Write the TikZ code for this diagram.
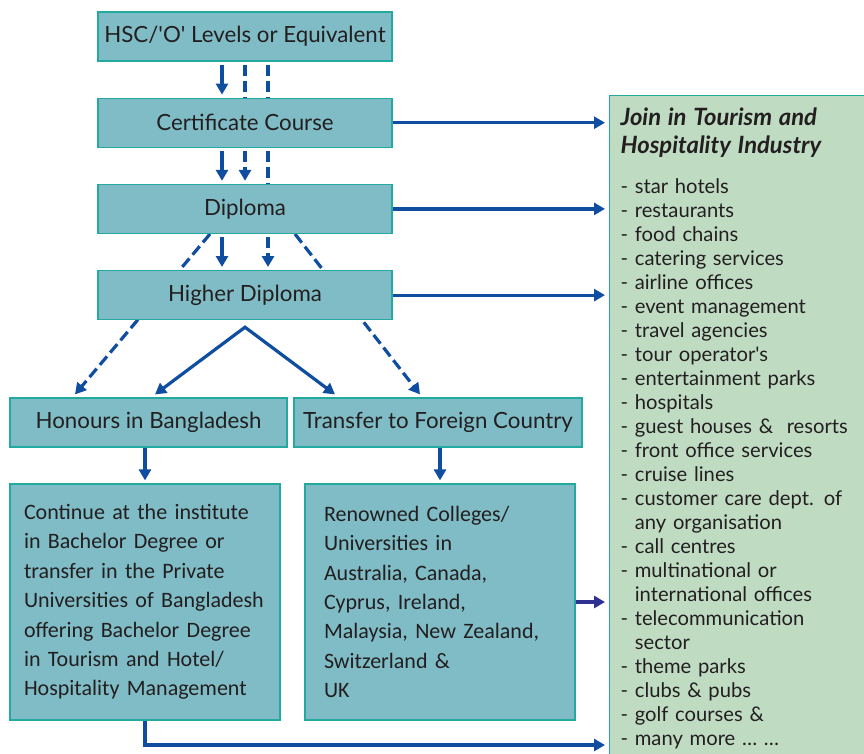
\documentclass[tikz,border=0pt]{standalone}
\usepackage{fontspec}
\setmainfont{Lato}[Ligatures=TeXOff]
\newfontfamily\narrowfont{Carlito}
\usetikzlibrary{arrows.meta,positioning,backgrounds}
\definecolor{boxfill}{HTML}{7FBCC6}
\definecolor{boxline}{HTML}{22AAA0}
\definecolor{joinfill}{HTML}{BFDCC2}
\definecolor{arrowblue}{HTML}{0E4D9F}
\definecolor{arrowpurple}{HTML}{2E3192}
\definecolor{inktext}{HTML}{231F20}

\tikzset{
  stage/.style={draw=boxline, fill=boxfill, line width=1.2pt, text=inktext,
    minimum width=294pt, minimum height=49pt, inner sep=0pt,
    font=\fontsize{22.3}{26}\selectfont},
  bigstage/.style={stage, minimum height=236pt, align=left,
    font=\narrowfont\fontsize{22}{29.4}\selectfont},
  joinbox/.style={draw=boxline, fill=joinfill, line width=1.2pt, text=inktext,
    anchor=north west, align=left, text width=250pt, inner xsep=11pt, inner ysep=12pt,
    font=\fontsize{20.2}{24}\selectfont},
  flow/.style={draw=arrowblue, line width=3.2pt, -{Triangle[length=11pt,width=12pt]}},
  flowdash/.style={flow, dash pattern=on 11pt off 5pt},
  linkdash/.style={draw=arrowblue, line width=3.2pt, dash pattern=on 11pt off 5pt},
}
\newcommand{\gap}{\hphantom{- }}

\begin{document}
\begin{tikzpicture}[x=1pt,y=-1pt]
\useasboundingbox (0,0) rectangle (864,753);

\node[stage] (hsc) at (245,36.5) {HSC/'O' Levels or Equivalent};
\node[stage, below=36pt of hsc] (cert) {Certificate Course};
\node[stage, below=36pt of cert] (dipl) {Diploma};
\node[stage, below=36pt of dipl] (hdip) {Higher Diploma};
\node[stage, minimum width=277pt] (hons) at (148.5,422.5) {Honours in Bangladesh};
\node[stage, minimum width=288pt] (trans) at (438,422.5) {Transfer to Foreign Country};
\node[bigstage, minimum width=270pt, text width=242pt, inner xsep=14pt] (cont) at (145,602)
  {Continue at the institute\\ in Bachelor Degree or\\ transfer in the Private\\
   Universities of Bangladesh\\ offering Bachelor Degree\\ in Tourism and Hotel/\\
   Hospitality Management};
\node[bigstage, minimum width=270pt, text width=232pt, inner xsep=19pt] (reno) at (440,602)
  {Renowned Colleges/\\ Universities in\\ Australia, Canada,\\ Cyprus, Ireland,\\
   Malaysia, New Zealand,\\ Switzerland \&\\ UK};
\node[joinbox] (join) at (609,95)
  {{\fontsize{23.8}{24}\selectfont\bfseries\itshape Join in Tourism and}\\[4pt]
   {\fontsize{23.8}{24}\selectfont\bfseries\itshape Hospitality Industry}\\[16pt]
   - star hotels\\ - restaurants\\ - food chains\\ - catering services\\
   - airline offices\\ - event management\\ - travel agencies\\ - tour operator's\\
   - entertainment parks\\ - hospitals\\ - guest houses \&\ \ resorts\\
   - front office services\\ - cruise lines\\ - customer care dept. of\\
   \gap any organisation\\ - call centres\\ - multinational or\\
   \gap international offices\\ - telecommunication\\ \gap sector\\
   - theme parks\\ - clubs \& pubs\\ - golf courses \&\\ - many more \dots\ \dots};

\coordinate (joinin) at ([xshift=-4pt]join.west);
\coordinate (floor) at (0,745);
\coordinate (apex) at ([yshift=-7pt]hdip.south);

% ladder of courses
\draw[flow] ([xshift=-23pt,yshift=-3pt]hsc.south) -- ([xshift=-23pt,yshift=3pt]cert.north);
\draw[linkdash] ([yshift=-3pt]hsc.south) -- (cert.north);
\draw[linkdash] ([xshift=23pt,yshift=-3pt]hsc.south) -- ([xshift=23pt]cert.north);
\draw[flow] ([xshift=-23pt,yshift=-3pt]cert.south) -- ([xshift=-23pt,yshift=3pt]dipl.north);
\draw[flowdash] ([yshift=-3pt]cert.south) -- ([yshift=3pt]dipl.north);
\draw[linkdash] ([xshift=23pt,yshift=-3pt]cert.south) -- ([xshift=23pt]dipl.north);
\draw[flow] ([xshift=-23pt,yshift=-3pt]dipl.south) -- ([xshift=-23pt,yshift=3pt]hdip.north);
\draw[flowdash] ([xshift=23pt,yshift=-3pt]dipl.south) -- ([xshift=23pt,yshift=3pt]hdip.north);
\begin{scope}[on background layer]
\draw[flowdash] ([xshift=-35pt]dipl.south) -- ([xshift=-73.5pt,yshift=3pt]hons.north);
\draw[flowdash] ([xshift=50pt]dipl.south) -- ([xshift=-18pt,yshift=3pt]trans.north);
\end{scope}
\draw[flow, {Triangle[length=11pt,width=12pt]}-{Triangle[length=11pt,width=12pt]}]
  ([xshift=6.5pt,yshift=3pt]hons.north) -- (apex) -- ([xshift=-103pt,yshift=3pt]trans.north);
\draw[flow] (cont.north |- hons.south) -- ([yshift=3pt]cont.north);
\draw[flow] (reno.north |- trans.south) -- ([yshift=3pt]reno.north);

% into the industry
\draw[flow] (cert.east) -- (cert.east -| joinin);
\draw[flow] (dipl.east) -- (dipl.east -| joinin);
\draw[flow] (hdip.east) -- (hdip.east -| joinin);
\draw[flow, draw=arrowpurple, line width=4.5pt] (reno.east) -- (reno.east -| joinin);
\draw[flow] (cont.south) |- (floor -| joinin);
\end{tikzpicture}
\end{document}
